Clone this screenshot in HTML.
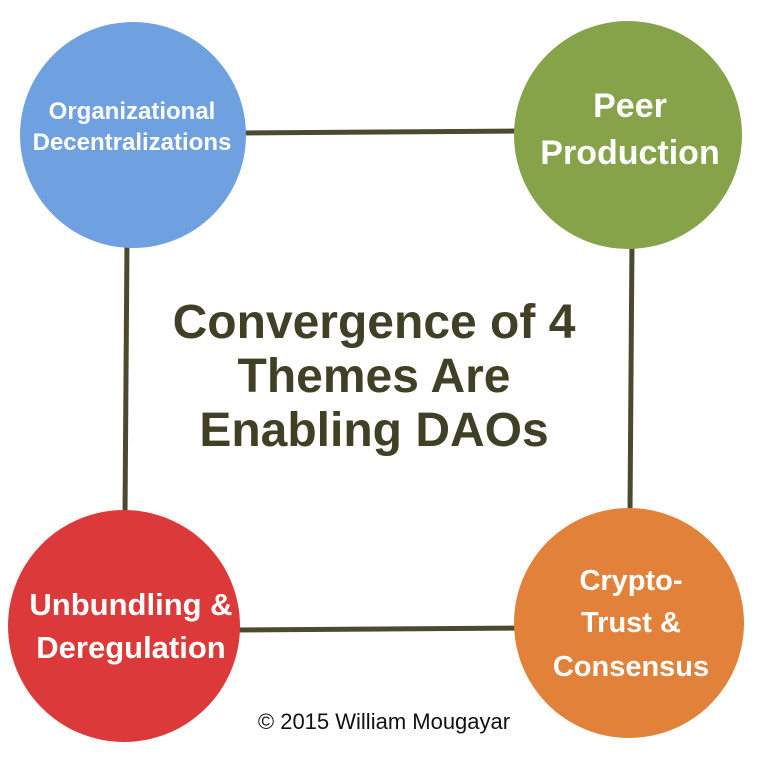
<!DOCTYPE html>
<html><head><meta charset="utf-8"><style>
html,body{margin:0;padding:0;background:#fff;}
svg{display:block;}
text{font-family:"Liberation Sans",sans-serif;font-weight:bold;}
</style></head><body>
<svg width="769" height="762" viewBox="0 0 769 762">
  <g stroke="#4b4a2e" stroke-width="5">
    <line x1="240" y1="133" x2="520" y2="131"/>
    <line x1="127" y1="240" x2="125" y2="515"/>
    <line x1="632" y1="240" x2="630" y2="512"/>
    <line x1="235" y1="630" x2="520" y2="628"/>
  </g>
  <g>
    <circle cx="133" cy="135" r="113" fill="#6fa0e0"/>
    <text x="132" y="119" font-size="24" fill="#fff" text-anchor="middle">Organizational</text>
    <text x="132" y="150" font-size="24" fill="#fff" text-anchor="middle">Decentralizations</text>
  </g>
  <g>
    <circle cx="628" cy="135" r="114" fill="#87a34a"/>
    <text x="630" y="117" font-size="34" fill="#fff" text-anchor="middle">Peer</text>
    <text x="630" y="164" font-size="34" fill="#fff" text-anchor="middle">Production</text>
  </g>
  <g>
    <circle cx="124" cy="626" r="116" fill="#dc3a3a"/>
    <text x="131" y="615" font-size="31" fill="#fff" text-anchor="middle">Unbundling &amp;</text>
    <text x="131" y="658" font-size="31" fill="#fff" text-anchor="middle">Deregulation</text>
  </g>
  <g>
    <circle cx="629" cy="623" r="115" fill="#e2823a"/>
    <text x="631" y="590" font-size="29" fill="#fff" text-anchor="middle">Crypto-</text>
    <text x="631" y="632" font-size="29" fill="#fff" text-anchor="middle">Trust &amp;</text>
    <text x="631" y="676" font-size="29" fill="#fff" text-anchor="middle">Consensus</text>
  </g>
  <g fill="#3f4025" font-size="48" text-anchor="middle">
    <text x="374" y="338">Convergence of 4</text>
    <text x="374" y="392">Themes Are</text>
    <text x="374" y="446">Enabling DAOs</text>
  </g>
  <text x="384" y="729" font-size="22" style="font-weight:normal" fill="#111" text-anchor="middle">© 2015 William Mougayar</text>
</svg>
</body></html>
